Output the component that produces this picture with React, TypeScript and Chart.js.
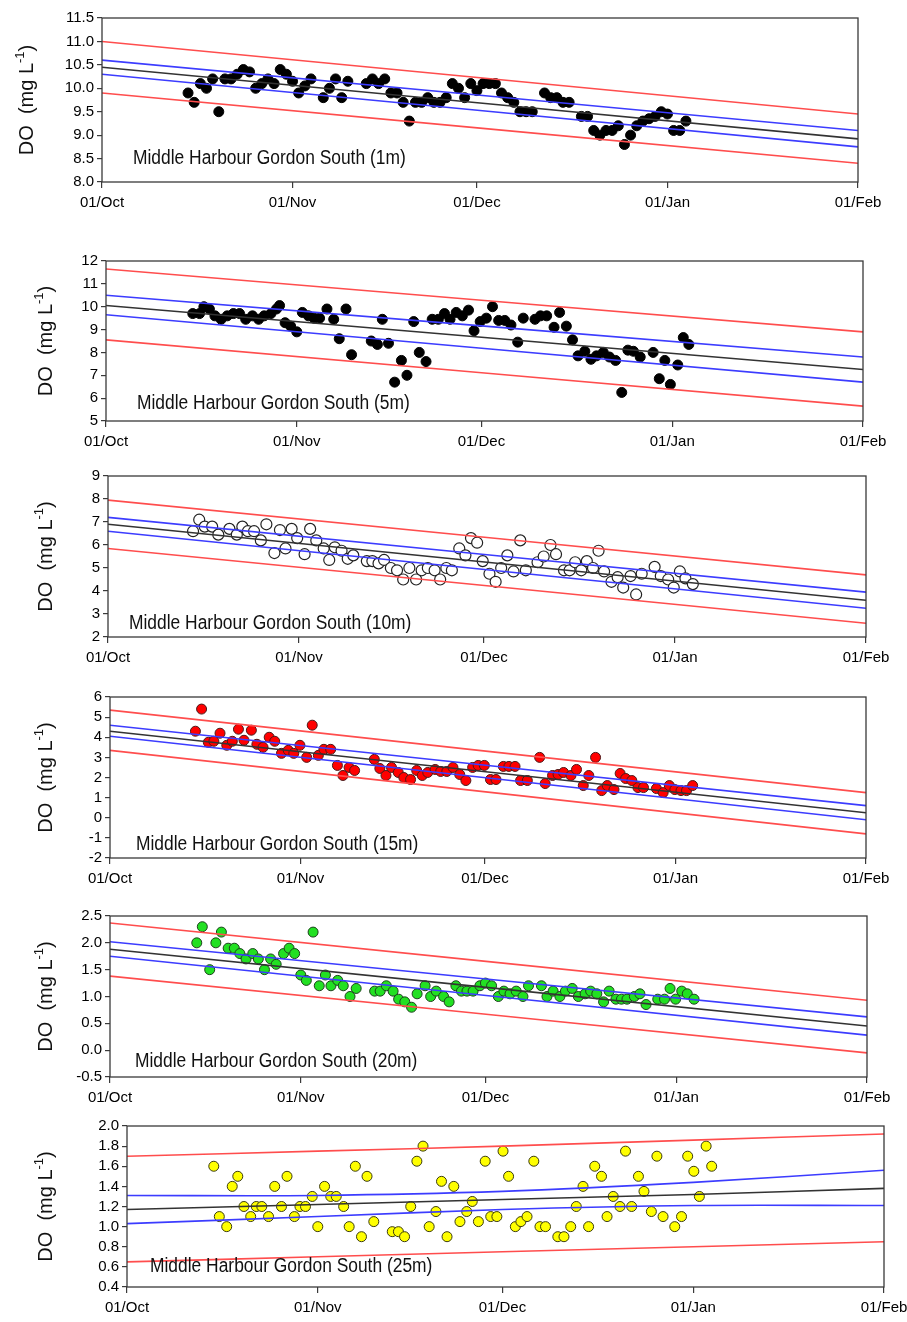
import React, { useEffect, useRef } from "react";
import { Chart, registerables } from "chart.js";
Chart.register(...registerables);

// ---------- axis ticks ----------
const MONTH_TICKS = [0, 31, 61, 92, 123];
const MONTH_LABELS = ["01/Oct", "01/Nov", "01/Dec", "01/Jan", "01/Feb"];
const LINE_DAYS = [0, 123];
const LINE_DAYS_25 = [0, 31, 61, 92, 123];

// ---------- 1 m ----------
const days1 = [14,15,16,17,18,19,20,21,22,23, 24,25,26,27,28,29,30,31,32,33, 34,36,37,38,39,40,43,44,45,46, 47,48,49,50,51,52,53,54,55,56, 57,58,59,60,61,62,63,64,65,66, 67,68,69,70,72,73,74,75,76,78, 79,80,81,82,83,84,85,86,87,88, 89,90,91,92,93,94,95];
const do1 = [9.9,9.7,10.1,10.0,10.2,9.5,10.2,10.2,10.3,10.4, 10.35,10.0,10.1,10.2,10.1,10.4,10.3,10.15,9.9,10.05, 10.2,9.8,10.0,10.2,9.8,10.15,10.1,10.2,10.1,10.2, 9.9,9.9,9.7,9.3,9.7,9.7,9.8,9.7,9.7,9.8, 10.1,10.0,9.8,10.1,9.95,10.1,10.1,10.1,9.9,9.8, 9.7,9.5,9.5,9.5,9.9,9.8,9.8,9.7,9.7,9.4, 9.4,9.1,9.0,9.1,9.1,9.2,8.8,9.0,9.2,9.3, 9.35,9.4,9.5,9.45,9.1,9.1,9.3];
const fit1 = [10.45, 8.92];
const ciHi1 = [10.6, 9.1];
const ciLo1 = [10.3, 8.75];
const piHi1 = [11.0, 9.45];
const piLo1 = [9.9, 8.4];

// ---------- 5 m ----------
const days5 = [14.1,15.2,15.9,16.8,17.7,18.7,19.7,20.7,21.7,22.7, 23.8,24.8,25.7,26.8,27.7,28.2,29.1,30.0,31.0,31.9, 32.9,33.8,34.7,35.9,37.0,37.9,39.0,39.9,43.1,44.1, 44.9,45.9,46.9,48.0,48.9,50.0,50.9,52.0,53.0,54.0, 55.0,55.9,56.9,57.9,58.9,59.8,60.8,61.8,62.8,63.8, 64.8,65.8,66.9,67.8,69.7,70.6,71.6,72.8,73.7,74.8, 75.8,76.7,77.8,78.8,79.7,80.8,81.8,82.8,83.8,84.8, 85.7,86.8,88.9,89.9,90.8,91.7,92.9,93.8,94.7];
const do5 = [9.7,9.7,10.0,9.9,9.6,9.45,9.6,9.7,9.7,9.45, 9.6,9.45,9.6,9.7,9.9,10.05,9.3,9.15,8.9,9.75, 9.6,9.5,9.5,9.9,9.45,8.6,9.9,7.9,8.5,8.35, 9.45,8.4,6.7,7.65,7.0,9.35,8.0,7.6,9.45,9.45, 9.7,9.45,9.75,9.6,9.85,8.95,9.35,9.5,10.0,9.4, 9.4,9.2,8.45,9.5,9.45,9.6,9.6,9.1,9.75,9.15, 8.55,7.85,8.05,7.7,7.85,8.0,7.8,7.65,6.25,8.1, 8.05,7.8,8.0,6.85,7.65,6.6,7.45,8.65,8.35];
const fit5 = [10.05, 7.25];
const ciHi5 = [10.5, 7.8];
const ciLo5 = [9.65, 6.7];
const piHi5 = [11.65, 8.9];
const piLo5 = [8.55, 5.65];

// ---------- 10 m ----------
const days10 = [13.8,14.8,15.7,16.9,17.9,19.7,20.9,21.8,22.7,23.7, 24.8,25.7,27.0,27.9,28.8,29.8,30.7,31.9,32.8,33.8, 35.0,35.9,36.8,37.9,38.9,39.8,42.0,42.9,43.9,44.8, 45.9,46.9,47.9,48.9,50.0,50.9,51.9,53.0,53.9,54.9, 55.8,57.0,58.0,58.9,59.9,60.8,61.9,62.9,63.8,64.8, 65.8,66.9,67.8,69.7,70.7,71.8,72.7,74.0,74.9,75.8, 76.8,77.7,78.7,79.6,80.5,81.7,82.7,83.6,84.8,85.7, 86.6,88.7,89.7,90.9,91.8,92.8,93.7,94.9];
const do10 = [6.6,7.1,6.8,6.8,6.45,6.7,6.45,6.8,6.6,6.6, 6.2,6.9,5.65,6.65,5.85,6.7,6.3,5.6,6.7,6.2, 5.85,5.35,5.9,5.75,5.4,5.55,5.3,5.3,5.2,5.35, 5.0,4.9,4.5,5.0,4.5,4.9,5.0,4.9,4.5,5.0, 4.9,5.85,5.55,6.3,6.1,5.3,4.75,4.4,5.0,5.55, 4.85,6.2,4.9,5.25,5.5,6.0,5.6,4.9,4.9,5.25, 4.9,5.3,5.0,5.75,4.85,4.4,4.6,4.15,4.65,3.85, 4.75,5.05,4.65,4.5,4.15,4.85,4.55,4.3];
const fit10 = [6.9, 3.6];
const ciHi10 = [7.2, 3.95];
const ciLo10 = [6.6, 3.25];
const piHi10 = [7.95, 4.7];
const piLo10 = [5.85, 2.6];

// ---------- 15 m ----------
const days15 = [13.9,14.9,16.0,16.9,17.9,19.0,19.9,20.9,21.8,23.0, 23.9,24.9,25.9,26.8,27.9,29.0,29.9,30.9,32.0,32.9, 33.9,34.8,35.9,37.0,37.9,38.9,39.8,43.0,43.9,44.9, 45.8,46.9,47.8,48.9,49.9,50.8,51.7,52.9,53.8,54.8, 55.8,56.9,57.9,59.0,59.9,60.9,61.9,62.8,64.0,64.9, 65.9,66.8,67.9,69.9,70.8,72.0,72.9,73.8,75.0,75.9, 77.0,77.9,79.0,80.0,80.9,82.0,83.0,83.9,84.9,85.9, 86.8,88.9,90.0,91.0,91.9,92.9,93.8,94.8];
const do15 = [4.3,5.4,3.75,3.8,4.2,3.6,3.8,4.4,3.85,4.35, 3.65,3.5,4.0,3.8,3.2,3.35,3.2,3.6,3.0,4.6, 3.1,3.4,3.4,2.6,2.1,2.5,2.35,2.9,2.45,2.1, 2.5,2.25,2.0,1.9,2.35,2.1,2.25,2.4,2.3,2.3, 2.5,2.15,1.85,2.5,2.6,2.6,1.9,1.9,2.55,2.55, 2.55,1.85,1.85,3.0,1.7,2.1,2.15,2.25,2.1,2.4, 1.6,2.1,3.0,1.35,1.6,1.4,2.2,1.95,1.85,1.5, 1.5,1.45,1.25,1.6,1.4,1.35,1.35,1.6];
const fit15 = [4.3, 0.25];
const ciHi15 = [4.6, 0.6];
const ciLo15 = [4.05, -0.1];
const piHi15 = [5.35, 1.25];
const piLo15 = [3.35, -0.8];

// ---------- 20 m ----------
const days20 = [14.1,15.0,16.2,17.2,18.1,19.2,20.2,21.1,22.1,23.2, 24.1,25.1,26.1,27.0,28.2,29.1,30.0,31.0,31.9,33.0, 34.0,35.0,35.9,37.0,37.9,39.0,40.0,43.0,43.9,44.9, 46.0,46.9,47.9,49.0,49.9,51.2,52.1,53.0,54.2,55.1, 56.2,57.1,58.0,59.0,60.1,61.0,62.0,63.1,64.0,65.0, 66.0,67.1,68.0,70.1,71.0,72.0,73.1,74.0,75.1,76.1, 77.2,78.1,79.1,80.2,81.1,82.2,83.1,84.0,85.2,86.1, 87.1,89.0,90.1,91.0,91.9,92.9,93.8,94.9];
const do20 = [2.0,2.3,1.5,2.0,2.2,1.9,1.9,1.8,1.7,1.8, 1.7,1.5,1.7,1.6,1.8,1.9,1.8,1.4,1.3,2.2, 1.2,1.4,1.2,1.3,1.2,1.0,1.15,1.1,1.1,1.2, 1.1,0.95,0.9,0.8,1.05,1.2,1.0,1.1,1.0,0.9, 1.2,1.1,1.1,1.1,1.2,1.25,1.2,1.0,1.1,1.05, 1.1,1.0,1.2,1.2,1.0,1.1,1.0,1.1,1.15,1.0, 1.05,1.1,1.05,0.9,1.1,0.95,0.95,0.95,1.0,1.05, 0.85,0.95,0.95,1.15,0.95,1.1,1.05,0.95];
const fit20 = [1.88, 0.45];
const ciHi20 = [2.02, 0.62];
const ciLo20 = [1.75, 0.28];
const piHi20 = [2.37, 0.93];
const piLo20 = [1.38, -0.05];

// ---------- 25 m ----------
const days25 = [14.1,15.0,16.2,17.1,18.0,19.0,20.1,21.0,21.9,23.0, 24.0,25.1,26.0,27.2,28.1,29.0,30.1,31.0,32.1,33.1, 34.0,35.2,36.1,37.1,38.1,39.0,40.1,43.1,44.1,45.1, 46.1,47.1,48.1,49.1,50.2,51.1,52.0,53.1,54.1,55.2, 56.1,57.1,58.2,59.1,60.1,61.1,62.0,63.1,64.0,65.0, 66.1,67.1,68.0,70.0,71.0,72.1,73.0,74.1,75.0,76.0, 77.1,78.0,79.0,80.1,81.0,82.0,83.1,84.0,85.2,86.1, 87.1,89.0,90.1,91.1,92.1,93.0,94.1,95.0];
const do25 = [1.6,1.1,1.0,1.4,1.5,1.2,1.1,1.2,1.2,1.1, 1.4,1.2,1.5,1.1,1.2,1.2,1.3,1.0,1.4,1.3, 1.3,1.2,1.0,1.6,0.9,1.5,1.05,0.95,0.95,0.9, 1.2,1.65,1.8,1.0,1.15,1.45,0.9,1.4,1.05,1.15, 1.25,1.05,1.65,1.1,1.1,1.75,1.5,1.0,1.05,1.1, 1.65,1.0,1.0,0.9,0.9,1.0,1.2,1.4,1.0,1.6, 1.5,1.1,1.3,1.2,1.75,1.2,1.5,1.35,1.15,1.7, 1.1,1.0,1.1,1.7,1.55,1.3,1.8,1.6];
const fit25 = [1.17, 1.22, 1.27, 1.32, 1.38];
const ciHi25 = [1.31, 1.31, 1.35, 1.44, 1.56];
const ciLo25 = [1.03, 1.10, 1.17, 1.21, 1.21];
const piHi25 = [1.70, 1.75, 1.80, 1.86, 1.92];
const piLo25 = [0.65, 0.70, 0.75, 0.80, 0.85];

// ---------- y axes ----------
const yMin = [8.0, 5, 2, -2, -0.5, 0.4];
const yMax = [11.5, 12, 9, 6, 2.5, 2.0];
const yStep = [0.5, 1, 1, 1, 0.5, 0.2];
const yDec = [1, 0, 0, 0, 1, 1];
const depthLabels = ["1m", "5m", "10m", "15m", "20m", "25m"];

// ---------- layout & style (page pixels) ----------
const LAYOUT = [
  { L: 102, R: 858, T: 18, B: 182, titleX: 27, textX: 133, textY: 164 },
  { L: 106, R: 863, T: 261, B: 421, titleX: 46, textX: 137, textY: 409 },
  { L: 108, R: 866, T: 476, B: 637, titleX: 46, textX: 129, textY: 629 },
  { L: 110, R: 866, T: 697, B: 858, titleX: 46, textX: 136, textY: 850 },
  { L: 110, R: 867, T: 916, B: 1077, titleX: 46, textX: 135, textY: 1067 },
  { L: 127, R: 884, T: 1126, B: 1287, titleX: 46, textX: 150, textY: 1272 },
];
const MARKERS = [
  { bg: "#000000", edge: "#000000", r: 5, bw: 1 },
  { bg: "#000000", edge: "#000000", r: 5, bw: 1 },
  { bg: "#ffffff", edge: "#222222", r: 5.5, bw: 1.2 },
  { bg: "#ff0000", edge: "#4a1a1a", r: 5, bw: 1 },
  { bg: "#22e022", edge: "#1d401d", r: 5, bw: 1 },
  { bg: "#ffff00", edge: "#3a3a10", r: 5, bw: 1 },
];
const RED = "#ff4d4d";
const BLUE = "#3c3cff";
const BLACK = "#333333";
const FRAME = "#3a3a3a";
const FONT = "'Liberation Sans', Arial, sans-serif";
const TEXT_SCALE_X = 0.87;

const daysAll = [days1, days5, days10, days15, days20, days25];
const doAll = [do1, do5, do10, do15, do20, do25];
const fitAll = [fit1, fit5, fit10, fit15, fit20, fit25];
const ciHiAll = [ciHi1, ciHi5, ciHi10, ciHi15, ciHi20, ciHi25];
const ciLoAll = [ciLo1, ciLo5, ciLo10, ciLo15, ciLo20, ciLo25];
const piHiAll = [piHi1, piHi5, piHi10, piHi15, piHi20, piHi25];
const piLoAll = [piLo1, piLo5, piLo10, piLo15, piLo20, piLo25];

const PAD_TOP = 15;
const PAD_BOTTOM = 36;

function linePts(vals: number[]) {
  const xs = vals.length === 2 ? LINE_DAYS : LINE_DAYS_25;
  return vals.map((v, i) => ({ x: xs[i], y: v }));
}

function Panel({ i }: { i: number }) {
  const ref = useRef<HTMLCanvasElement>(null);
  const g = LAYOUT[i];
  const top = g.T - PAD_TOP;
  const height = g.B + PAD_BOTTOM - top;

  useEffect(() => {
    const canvas = ref.current!;
    const m = MARKERS[i];
    const pts = daysAll[i].map((d, k) => ({ x: d, y: doAll[i][k] }));
    const lineDs = (vals: number[], color: string) => ({
      type: "line" as const,
      data: linePts(vals),
      borderColor: color,
      borderWidth: 1.6,
      pointRadius: 0,
      fill: false,
      tension: 0.35,
      order: 0,
    });

    const framePlugin = {
      id: "frame" + i,
      afterDatasetsDraw(chart: any) {
        const { ctx, chartArea: a } = chart;
        ctx.save();
        ctx.strokeStyle = FRAME;
        ctx.lineWidth = 1.3;
        ctx.strokeRect(a.left, a.top, a.right - a.left, a.bottom - a.top);
        ctx.restore();
      },
      afterDraw(chart: any) {
        const { ctx, chartArea: a } = chart;
        // panel annotation
        ctx.save();
        ctx.fillStyle = "#111";
        ctx.font = `20px ${FONT}`;
        ctx.textBaseline = "alphabetic";
        ctx.textAlign = "left";
        ctx.translate(g.textX, g.textY - top);
        ctx.scale(TEXT_SCALE_X, 1);
        ctx.fillText(`Middle Harbour Gordon South (${depthLabels[i]})`, 0, 0);
        ctx.restore();
        // y-axis title with superscript
        ctx.save();
        ctx.fillStyle = "#111";
        const cy = (a.top + a.bottom) / 2;
        ctx.translate(g.titleX, cy);
        ctx.rotate(-Math.PI / 2);
        const mainFont = `20px ${FONT}`;
        const supFont = `13px ${FONT}`;
        const p1 = "DO  (mg L";
        const p2 = "-1";
        const p3 = ")";
        ctx.font = mainFont;
        const w1 = ctx.measureText(p1).width;
        const w3 = ctx.measureText(p3).width;
        ctx.font = supFont;
        const w2 = ctx.measureText(p2).width;
        const total = w1 + w2 + w3;
        let x = -total / 2;
        ctx.textBaseline = "middle";
        ctx.font = mainFont;
        ctx.fillText(p1, x, 0);
        x += w1;
        ctx.font = supFont;
        ctx.fillText(p2, x, -7);
        x += w2;
        ctx.font = mainFont;
        ctx.fillText(p3, x, 0);
        ctx.restore();
      },
    };

    const chart = new Chart(canvas, {
      type: "scatter",
      data: {
        datasets: [
          lineDs(piHiAll[i], RED),
          lineDs(piLoAll[i], RED),
          lineDs(ciHiAll[i], BLUE),
          lineDs(ciLoAll[i], BLUE),
          lineDs(fitAll[i], BLACK),
          {
            type: "scatter" as const,
            data: pts,
            backgroundColor: m.bg,
            borderColor: m.edge,
            borderWidth: m.bw,
            pointRadius: m.r,
            order: 1,
          },
        ] as any,
      },
      options: {
        responsive: false,
        animation: false,
        devicePixelRatio: 1,
        layout: { padding: { top: PAD_TOP, right: 907 - g.R, bottom: 0, left: 0 } },
        plugins: { legend: { display: false }, tooltip: { enabled: false } },
        scales: {
          x: {
            type: "linear",
            min: 0,
            max: 123,
            afterBuildTicks: (s: any) => {
              s.ticks = MONTH_TICKS.map((v) => ({ value: v }));
            },
            afterFit: (s: any) => {
              s.height = PAD_BOTTOM;
              s.paddingLeft = 0;
              s.paddingRight = 0;
            },
            ticks: {
              autoSkip: false,
              maxRotation: 0,
              padding: 6,
              color: "#000",
              font: { family: FONT, size: 15 },
              callback: (v: any) => MONTH_LABELS[MONTH_TICKS.indexOf(Number(v))] ?? "",
            },
            grid: { drawOnChartArea: false, tickLength: 6, color: FRAME, lineWidth: 1.2 },
            border: { display: false },
          },
          y: {
            type: "linear",
            min: yMin[i],
            max: yMax[i],
            afterFit: (s: any) => {
              s.width = g.L;
              s.paddingTop = 0;
              s.paddingBottom = 0;
            },
            ticks: {
              stepSize: yStep[i],
              autoSkip: false,
              padding: 3,
              color: "#000",
              font: { family: FONT, size: 15 },
              callback: (v: any) => Number(v).toFixed(yDec[i]),
            },
            grid: { drawOnChartArea: false, tickLength: 5, color: FRAME, lineWidth: 1.2 },
            border: { display: false },
          },
        },
      } as any,
      plugins: [framePlugin],
    });
    return () => chart.destroy();
  }, [i]);

  return (
    <canvas
      ref={ref}
      width={907}
      height={height}
      style={{ position: "absolute", left: 0, top, width: 907, height, display: "block" }}
    />
  );
}

export default function App() {
  return (
    <div style={{ position: "absolute", left: 0, top: 0, width: 907, height: 1322, background: "#fff" }}>
      {LAYOUT.map((_, i) => (
        <Panel key={i} i={i} />
      ))}
    </div>
  );
}
